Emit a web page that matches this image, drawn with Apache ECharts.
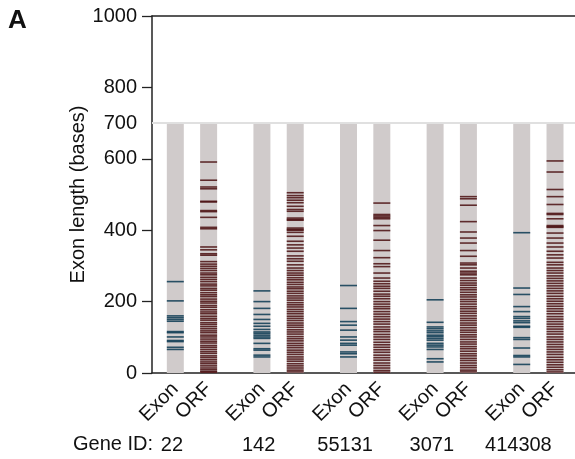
<!DOCTYPE html>
<html>
<head>
<meta charset="utf-8">
<script src="https://cdn.jsdelivr.net/npm/echarts@6/dist/echarts.min.js"></script>
<style>html,body{margin:0;padding:0;background:#fff}#c{width:575px;height:459px}</style>
</head>
<body>
<div id="c"></div>
<script>
// ---- data ----
const genes = ['22', '142', '55131', '3071', '414308'];
const columnTypes = ['Exon', 'ORF'];
const displayMax = 700;
const yTickLabels = [0, 200, 400, 600, 700, 800, 1000];
const yTicks = [0, 200, 400, 600, 800, 1000];

const exon22 = [256, 202, 160, 155, 150, 145, 116, 113, 101, 91, 88, 72, 66];
const orf22 = [591, 540, 521, 516, 481, 479, 455, 452, 436, 408, 404, 353, 345, 334, 330, 312, 305, 299, 293, 287, 280, 275, 268, 262, 256, 249, 244, 237, 232, 225, 219, 214, 207, 201, 196, 189, 184, 177, 171, 166, 159, 153, 148, 141, 136, 130, 124, 118, 113, 106, 101, 95, 89, 84, 77, 72, 66, 60, 55, 48, 43, 37, 31, 26, 20, 14, 9, 4, 2];

const exon142 = [230, 200, 181, 164, 150, 139, 131, 122, 115, 111, 106, 101, 97, 83, 68, 64, 50, 45];
const orf142 = [505, 497, 491, 484, 477, 467, 458, 453, 434, 430, 428, 406, 402, 400, 394, 383, 369, 359, 350, 341, 328, 320, 313, 303, 294, 287, 280, 274, 267, 261, 254, 248, 241, 236, 229, 223, 216, 210, 204, 197, 191, 185, 178, 172, 166, 159, 153, 147, 140, 134, 128, 121, 115, 109, 102, 96, 90, 83, 77, 71, 64, 58, 52, 45, 39, 33, 26, 20, 14, 8, 3];

const exon55131 = [245, 181, 144, 134, 120, 101, 92, 83, 78, 59, 54, 45];
const orf55131 = [476, 444, 440, 436, 432, 413, 399, 372, 343, 323, 306, 298, 280, 266, 257, 250, 243, 237, 229, 221, 215, 208, 200, 193, 186, 180, 172, 165, 158, 151, 144, 137, 129, 122, 116, 108, 101, 94, 86, 79, 72, 65, 58, 50, 43, 36, 28, 21, 14, 7, 2];

const exon3071 = [205, 142, 129, 124, 118, 113, 106, 102, 97, 92, 83, 78, 73, 66, 40, 31];
const orf3071 = [494, 488, 470, 424, 395, 378, 364, 343, 327, 308, 303, 294, 285, 280, 275, 266, 259, 252, 246, 239, 233, 226, 219, 213, 206, 200, 193, 186, 180, 173, 167, 160, 153, 147, 140, 134, 127, 120, 114, 107, 101, 94, 87, 81, 74, 68, 61, 54, 48, 41, 35, 28, 21, 15, 8, 3];

const exon414308 = [393, 238, 220, 186, 172, 158, 153, 146, 141, 131, 128, 99, 94, 70, 49, 45, 24];
const orf414308 = [594, 563, 514, 494, 472, 447, 444, 432, 413, 410, 408, 392, 378, 364, 353, 341, 331, 322, 310, 303, 294, 287, 280, 272, 265, 258, 251, 244, 237, 230, 223, 215, 208, 201, 194, 187, 180, 173, 166, 158, 151, 144, 137, 130, 123, 116, 109, 101, 94, 87, 80, 73, 66, 59, 52, 44, 37, 30, 23, 16, 9, 3];

const exonSets = [exon22, exon142, exon55131, exon3071, exon414308];
const orfSets = [orf22, orf142, orf55131, orf3071, orf414308];

// ---- layout helpers ----
const GROUP_STEP = 2.6;
const pos = (g, c) => g * GROUP_STEP + c;
const FONT = "'Liberation Sans', Arial, Helvetica, sans-serif";

const barData = [];
const columnTicks = [];
genes.forEach((g, gi) => {
  columnTypes.forEach((t, ci) => {
    barData.push([pos(gi, ci), displayMax]);
    columnTicks.push(pos(gi, ci));
  });
});
const geneTicks = genes.map((g, gi) => pos(gi, 0) - 0.1);

const exonData = [], orfData = [];
exonSets.forEach((arr, gi) => arr.forEach(v => exonData.push([pos(gi, 0), v])));
orfSets.forEach((arr, gi) => arr.forEach(v => orfData.push([pos(gi, 1), v])));

function barItem(params, api) {
  const top = api.coord([api.value(0), api.value(1)]);
  const bot = api.coord([api.value(0), 0]);
  const w = api.size([0.51, 0])[0];
  return { type: 'rect', shape: { x: top[0] - w / 2, y: top[1], width: w, height: bot[1] - top[1] },
           style: { fill: '#d0cbcb' } };
}
function lineRenderer(color) {
  return function (params, api) {
    const p = api.coord([api.value(0), api.value(1)]);
    const w = api.size([0.51, 0])[0];
    return { type: 'rect', shape: { x: p[0] - w / 2, y: p[1] - 0.8, width: w, height: 1.6 },
             style: { fill: color, opacity: 0.85 } };
  };
}

const xBase = { type: 'value', min: -0.7, max: 12.0, splitLine: { show: false } };

const chart = echarts.init(document.getElementById('c'), null, { renderer: 'canvas' });
chart.setOption({
  animation: false,
  backgroundColor: '#fff',
  grid: { left: 152, right: 0, top: 16, bottom: 86, containLabel: false },
  graphic: [
    { type: 'text', left: 8, top: 8, style: { text: 'A', font: "bold 26px " + FONT, fill: '#111' } },
    { type: 'text', x: 153, y: 444, style: { text: 'Gene ID:', font: "20px " + FONT, fill: '#111', align: 'right', verticalAlign: 'middle' } }
  ],
  xAxis: [
    Object.assign({}, xBase, {
      position: 'bottom',
      axisLine: { show: true, onZero: false, lineStyle: { color: '#222', width: 1.5 } },
      axisTick: { show: false },
      axisLabel: {
        customValues: columnTicks, rotate: 45, margin: 13, fontSize: 20, fontFamily: FONT, color: '#111',
        formatter: v => { const g = Math.floor((v + 0.3) / GROUP_STEP); return columnTypes[Math.round(v - g * GROUP_STEP)]; }
      }
    }),
    Object.assign({}, xBase, {
      position: 'top',
      axisLine: { show: true, onZero: false, lineStyle: { color: '#222', width: 1.5 } },
      axisTick: { show: false }, axisLabel: { show: false }
    }),
    Object.assign({}, xBase, {
      position: 'bottom', offset: 56,
      axisLine: { show: false }, axisTick: { show: false },
      axisLabel: {
        customValues: geneTicks, margin: 6, fontSize: 20, fontFamily: FONT, color: '#111',
        formatter: v => genes[Math.round((v + 0.1) / GROUP_STEP)]
      }
    })
  ],
  yAxis: [
    {
      type: 'value', min: 0, max: 1000, interval: 100,
      name: 'Exon length (bases)', nameLocation: 'middle', nameGap: 64, nameMoveOverlap: false,
      nameTextStyle: { fontSize: 20, fontFamily: FONT, color: '#111' },
      axisLine: { show: true, onZero: false, lineStyle: { color: '#222', width: 1.5 } },
      axisTick: { show: true, customValues: yTicks, length: 10, lineStyle: { color: '#222', width: 1.3 } },
      axisLabel: { customValues: yTickLabels, margin: 15, fontSize: 20, fontFamily: FONT, color: '#111',
                   formatter: v => String(v) },
      splitLine: { show: false }
    },
    {
      type: 'value', min: 0, max: 1000, position: 'left',
      axisLine: { show: false },
      axisTick: { show: true, customValues: [displayMax], length: 10, lineStyle: { color: '#e0e0e0', width: 2 } },
      axisLabel: { show: false }, splitLine: { show: false }
    }
  ],
  series: [
    {
      type: 'custom', name: 'columns', renderItem: barItem, data: barData, z: 1, silent: true,
      markLine: {
        silent: true, symbol: 'none', label: { show: false },
        lineStyle: { color: '#e0e0e0', width: 2, type: 'solid' },
        data: [{ yAxis: displayMax }]
      }
    },
    { type: 'custom', name: 'Exon', renderItem: lineRenderer('#0a3a52'), data: exonData, z: 3, silent: true },
    { type: 'custom', name: 'ORF', renderItem: lineRenderer('#4a0f10'), data: orfData, z: 3, silent: true }
  ]
});
</script>
</body>
</html>
